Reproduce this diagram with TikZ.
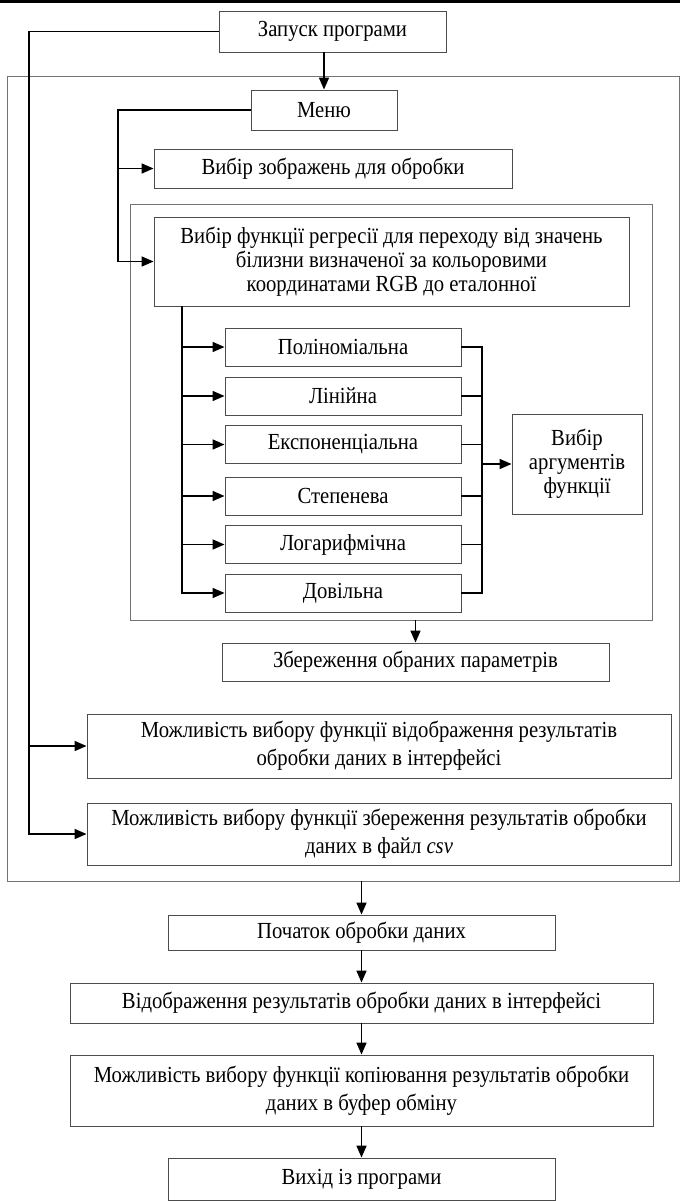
\documentclass[tikz,border=0pt]{standalone}
\usepackage{fontspec}
\setmainfont[FakeStretch=0.9]{Liberation Serif}
\usetikzlibrary{arrows.meta, positioning, calc}

\begin{document}
\begin{tikzpicture}[
    x=1pt, y=-1pt,
    block/.style={rectangle, draw=black!70, line width=0.9pt, inner sep=2pt, align=center, font=\fontsize{23}{28}\selectfont},
    tight/.style={font=\fontsize{23}{24}\selectfont},
    frame/.style={rectangle, draw=black!55, line width=0.8pt, inner sep=0pt},
    link/.style={line width=1.6pt},
    arr/.style={link, -{Triangle[length=12pt, width=10pt]}}
]
    \useasboundingbox (0,0) rectangle (680,1201);
    \fill (0,0) rectangle (680,3.5);

    % Frames
    \node[frame, minimum width=672pt, minimum height=805pt] (outer) at (343,478.5) {};
    \node[frame, minimum width=522pt, minimum height=416pt] (inner) at (391,412) {};

    % Blocks
    \node[block, minimum width=227pt, minimum height=41pt] (start) at (332.5,31.5) {Запуск програми};
    \node[block, minimum width=146pt, minimum height=40pt] (menu) at (324,110) {Меню};
    \node[block, minimum width=358pt, minimum height=39pt] (images) at (333,168.5) {Вибір зображень для обробки};
    \node[block, tight, minimum width=475pt, minimum height=89pt] (regr) at (391.5,261.5) {Вибір функції регресії для переходу від значень\\білизни визначеної за кольоровими\\координатами RGB до еталонної};
    \node[block, minimum width=236pt, minimum height=38pt] (poly) at (343,347) {Поліноміальна};
    \node[block, minimum width=236pt, minimum height=38pt] (lin) at (343,396) {Лінійна};
    \node[block, minimum width=236pt, minimum height=38pt] (expo) at (343,444.5) {Експоненціальна};
    \node[block, minimum width=236pt, minimum height=38pt] (power) at (343,496) {Степенева};
    \node[block, minimum width=236pt, minimum height=38pt] (logar) at (343,544.5) {Логарифмічна};
    \node[block, minimum width=236pt, minimum height=38pt] (free) at (343,593) {Довільна};
    \node[block, tight, minimum width=130pt, minimum height=100pt] (args) at (577,464) {Вибір\\аргументів\\функції};
    \node[block, minimum width=387pt, minimum height=38pt] (save) at (415.5,662) {Збереження обраних параметрів};
    \node[block, minimum width=584pt, minimum height=64pt] (showopt) at (379,746) {Можливість вибору функції відображення результатів\\обробки даних в інтерфейсі};
    \node[block, minimum width=584pt, minimum height=62pt] (csvopt) at (379,834) {Можливість вибору функції збереження результатів обробки\\даних в файл \textit{csv}};
    \node[block, minimum width=387pt, minimum height=35pt] (begin) at (361.5,932.5) {Початок обробки даних};
    \node[block, minimum width=583pt, minimum height=40pt] (show) at (361.5,1003) {Відображення результатів обробки даних в інтерфейсі};
    \node[block, minimum width=583pt, minimum height=71pt] (copy) at (361.5,1090.5) {Можливість вибору функції копіювання результатів обробки\\даних в буфер обміну};
    \node[block, minimum width=387pt, minimum height=42pt] (quit) at (361.5,1179) {Вихід із програми};

    % Buses
    \coordinate (mainbus) at (29,0);
    \coordinate (menubus) at (118,0);
    \coordinate (regrbus) at (182,0);
    \coordinate (argbus) at (482,0);

    % Arrows
    \draw[arr] (start.south -| menu.north) -- (menu.north);
    \draw[arr] (start.west) -| (mainbus |- csvopt.west) -- (csvopt.west);
    \draw[arr] (mainbus |- showopt.west) -- (showopt.west);
    \draw[arr] (menu.west) -| (menubus |- regr.west) -- (regr.west);
    \draw[arr] (menubus |- images.west) -- (images.west);
    \draw[arr] (regrbus |- regr.south) |- (free.west);
    \foreach \n in {poly,lin,expo,power,logar}
        \draw[arr] (regrbus |- \n.west) -- (\n.west);
    \draw[link] (poly.east) -| (argbus |- free.east) -- (free.east);
    \foreach \n in {lin,expo,power,logar}
        \draw[link] (\n.east) -- (argbus |- \n.east);
    \draw[arr] (argbus |- args.west) -- (args.west);
    \draw[arr] (inner.south -| save.north) -- (save.north);
    \draw[arr] (outer.south -| begin.north) -- (begin.north);
    \draw[arr] (begin) -- (show);
    \draw[arr] (show) -- (copy);
    \draw[arr] (copy) -- (quit);

\end{tikzpicture}
\end{document}
